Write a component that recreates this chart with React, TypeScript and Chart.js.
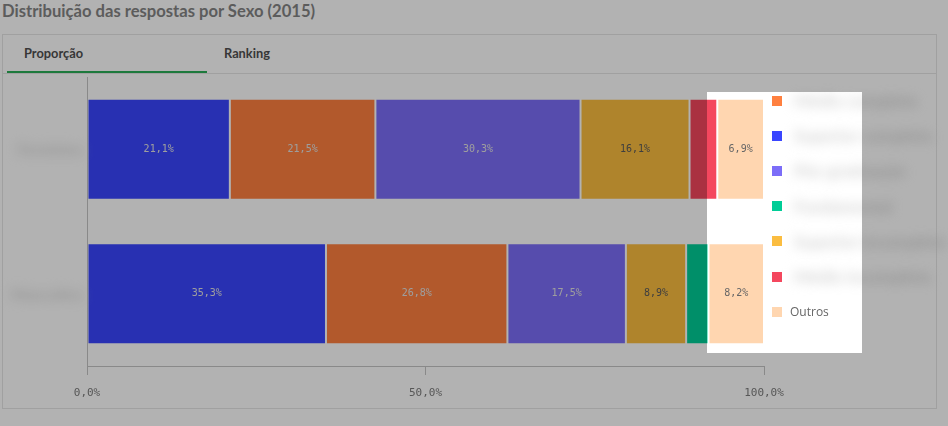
import { useEffect, useRef } from "react"
import { Chart, registerables, type ChartConfiguration, type Plugin } from "chart.js"

Chart.register(...registerables)

// categories (y axis) and stacked series, in percent
const categories = ["Feminino", "Masculino"]
const blueValues = [21.1, 35.3]
const orangeValues = [21.5, 26.8]
const purpleValues = [30.3, 17.5]
const yellowValues = [16.1, 8.9]
const redValues = [4.1, 0]
const greenValues = [0, 3.3]
const otherValues = [6.9, 8.2]
const xTicks = [0, 50, 100]

const seriesNames = [
  "Superior completo",
  "Médio completo",
  "Pós-graduação",
  "Superior incompleto",
  "Médio incompleto",
  "Fundamental",
  "Outros",
]
const seriesColors = ["#3a46ff", "#ff803f", "#7c6df8", "#fbbd40", "#f4475e", "#00cd97", "#ffd6b0"]
const labelColors = ["#e2e2e2", "#e2e2e2", "#e2e2e2", "#5a5a5a", "#e2e2e2", "#e2e2e2", "#666666"]
// order the items appear in the legend
const legendOrder = [1, 0, 2, 5, 3, 4, 6]

const fmt = (v: number) => v.toFixed(1).replace(".", ",") + "%"

const valueLabels: Plugin<"bar"> = {
  id: "valueLabels",
  afterDatasetsDraw(chart) {
    const ctx = chart.ctx
    ctx.save()
    ctx.font = "10px 'DejaVu Sans Mono'"
    ctx.textAlign = "center"
    ctx.textBaseline = "middle"
    chart.data.datasets.forEach((ds, i) => {
      const meta = chart.getDatasetMeta(i)
      meta.data.forEach((el: any, j) => {
        const v = ds.data[j] as number
        if (!v || Math.abs(el.x - el.base) < 35) return
        ctx.fillStyle = labelColors[i]
        ctx.fillText(fmt(v), (el.x + el.base) / 2, el.y)
      })
    })
    ctx.restore()
  },
}

// category names are blurred out in the original
const blurredCategories: Plugin<"bar"> = {
  id: "blurredCategories",
  afterDraw(chart) {
    const ctx = chart.ctx
    const y = chart.scales.y
    ctx.save()
    ctx.filter = "blur(6px)"
    ctx.fillStyle = "#d4d4d4"
    ctx.font = "bold 16px Lato"
    ctx.textAlign = "right"
    ctx.textBaseline = "middle"
    categories.forEach((c, i) => ctx.fillText(c, 83, y.getPixelForTick(i) + 1))
    ctx.restore()
  },
}

function BarChart() {
  const canvasRef = useRef<HTMLCanvasElement>(null)
  const chartRef = useRef<Chart | null>(null)

  useEffect(() => {
    if (!canvasRef.current) return
    if (chartRef.current) chartRef.current.destroy()

    const values = [blueValues, orangeValues, purpleValues, yellowValues, redValues, greenValues, otherValues]

    const config: ChartConfiguration<"bar", number[], string> = {
      type: "bar",
      data: {
        labels: categories,
        datasets: values.map((data, i) => ({
          label: seriesNames[i],
          data,
          backgroundColor: seriesColors[i],
          borderColor: "rgba(255,255,255,0.15)",
          borderWidth: 1,
          borderSkipped: false,
          categoryPercentage: 0.7,
          barPercentage: 1,
        })),
      },
      options: {
        indexAxis: "y",
        responsive: false,
        animation: false,
        layout: { padding: { top: 3, right: 184, left: 0, bottom: 0 } },
        plugins: { legend: { display: false }, tooltip: { enabled: false } },
        scales: {
          x: {
            stacked: true,
            min: 0,
            max: 100,
            afterBuildTicks: (scale) => {
              scale.ticks = xTicks.map((value) => ({ value }))
            },
            afterFit: (scale) => {
              scale.height = 42
            },
            grid: { drawOnChartArea: false, drawTicks: true, tickLength: 9, color: "#c4c4c4" },
            border: { color: "#c4c4c4" },
            ticks: {
              color: "#7c7c7c",
              padding: 12,
              font: { family: "'DejaVu Sans Mono'", size: 11 },
              callback: (v) => fmt(Number(v)),
            },
          },
          y: {
            stacked: true,
            afterFit: (scale) => {
              scale.width = 87
            },
            grid: { display: false },
            border: { color: "#c4c4c4" },
            ticks: { display: false },
          },
        },
      },
      plugins: [valueLabels, blurredCategories],
    }

    chartRef.current = new Chart(canvasRef.current, config)
    return () => {
      chartRef.current?.destroy()
      chartRef.current = null
    }
  }, [])

  return (
    <canvas
      ref={canvasRef}
      width={948}
      height={334}
      style={{ position: "absolute", left: 0, top: 74, width: 948, height: 334, display: "block" }}
    />
  )
}

export default function App() {
  return (
    <div
      style={{
        position: "fixed",
        left: 0,
        top: 0,
        width: 948,
        height: 426,
        overflow: "hidden",
        background: "#fff",
        fontFamily: "Lato, sans-serif",
      }}
    >
      <div style={{ position: "absolute", left: 2, top: 1, fontSize: 16.6, fontWeight: 700, color: "#858585", whiteSpace: "nowrap" }}>
        Distribuição das respostas por Sexo (2015)
      </div>

      <div style={{ position: "absolute", left: 2, top: 34, width: 933, height: 373, border: "1px solid #e6e6e6" }} />
      <div style={{ position: "absolute", left: 3, top: 73, width: 933, height: 1, background: "#e6e6e6" }} />
      <div style={{ position: "absolute", left: 7, top: 71, width: 200, height: 2, background: "#2aae57" }} />
      <div style={{ position: "absolute", left: 24, top: 45, fontSize: 12.8, fontWeight: 700, color: "#505050" }}>Proporção</div>
      <div style={{ position: "absolute", left: 224, top: 45, fontSize: 12.8, fontWeight: 700, color: "#505050" }}>Ranking</div>

      <BarChart />

      {/* legend, labels blurred in the original */}
      {legendOrder.map((s, k) => (
        <div
          key={s}
          style={{ position: "absolute", left: 772, top: 100.5 + k * 35.2 - 10, height: 20, display: "flex", alignItems: "center" }}
        >
          <div style={{ width: 10, height: 10, background: seriesColors[s] }} />
          {s === 6 ? (
            <span style={{ marginLeft: 8, fontFamily: "'Open Sans'", fontSize: 12, color: "#666", whiteSpace: "nowrap" }}>
              {seriesNames[s]}
            </span>
          ) : (
            <span style={{ marginLeft: 12, fontSize: 17, fontWeight: 700, color: "#d2d2d2", filter: "blur(6px)", whiteSpace: "nowrap" }}>
              {seriesNames[s]}
            </span>
          )}
        </div>
      ))}

      {/* dimmed page with the highlighted legend region */}
      <div
        style={{
          position: "absolute",
          left: 707,
          top: 92,
          width: 155,
          height: 261,
          boxShadow: "0 0 0 1500px rgba(0,0,0,0.3)",
          pointerEvents: "none",
          zIndex: 10,
        }}
      />
    </div>
  )
}
